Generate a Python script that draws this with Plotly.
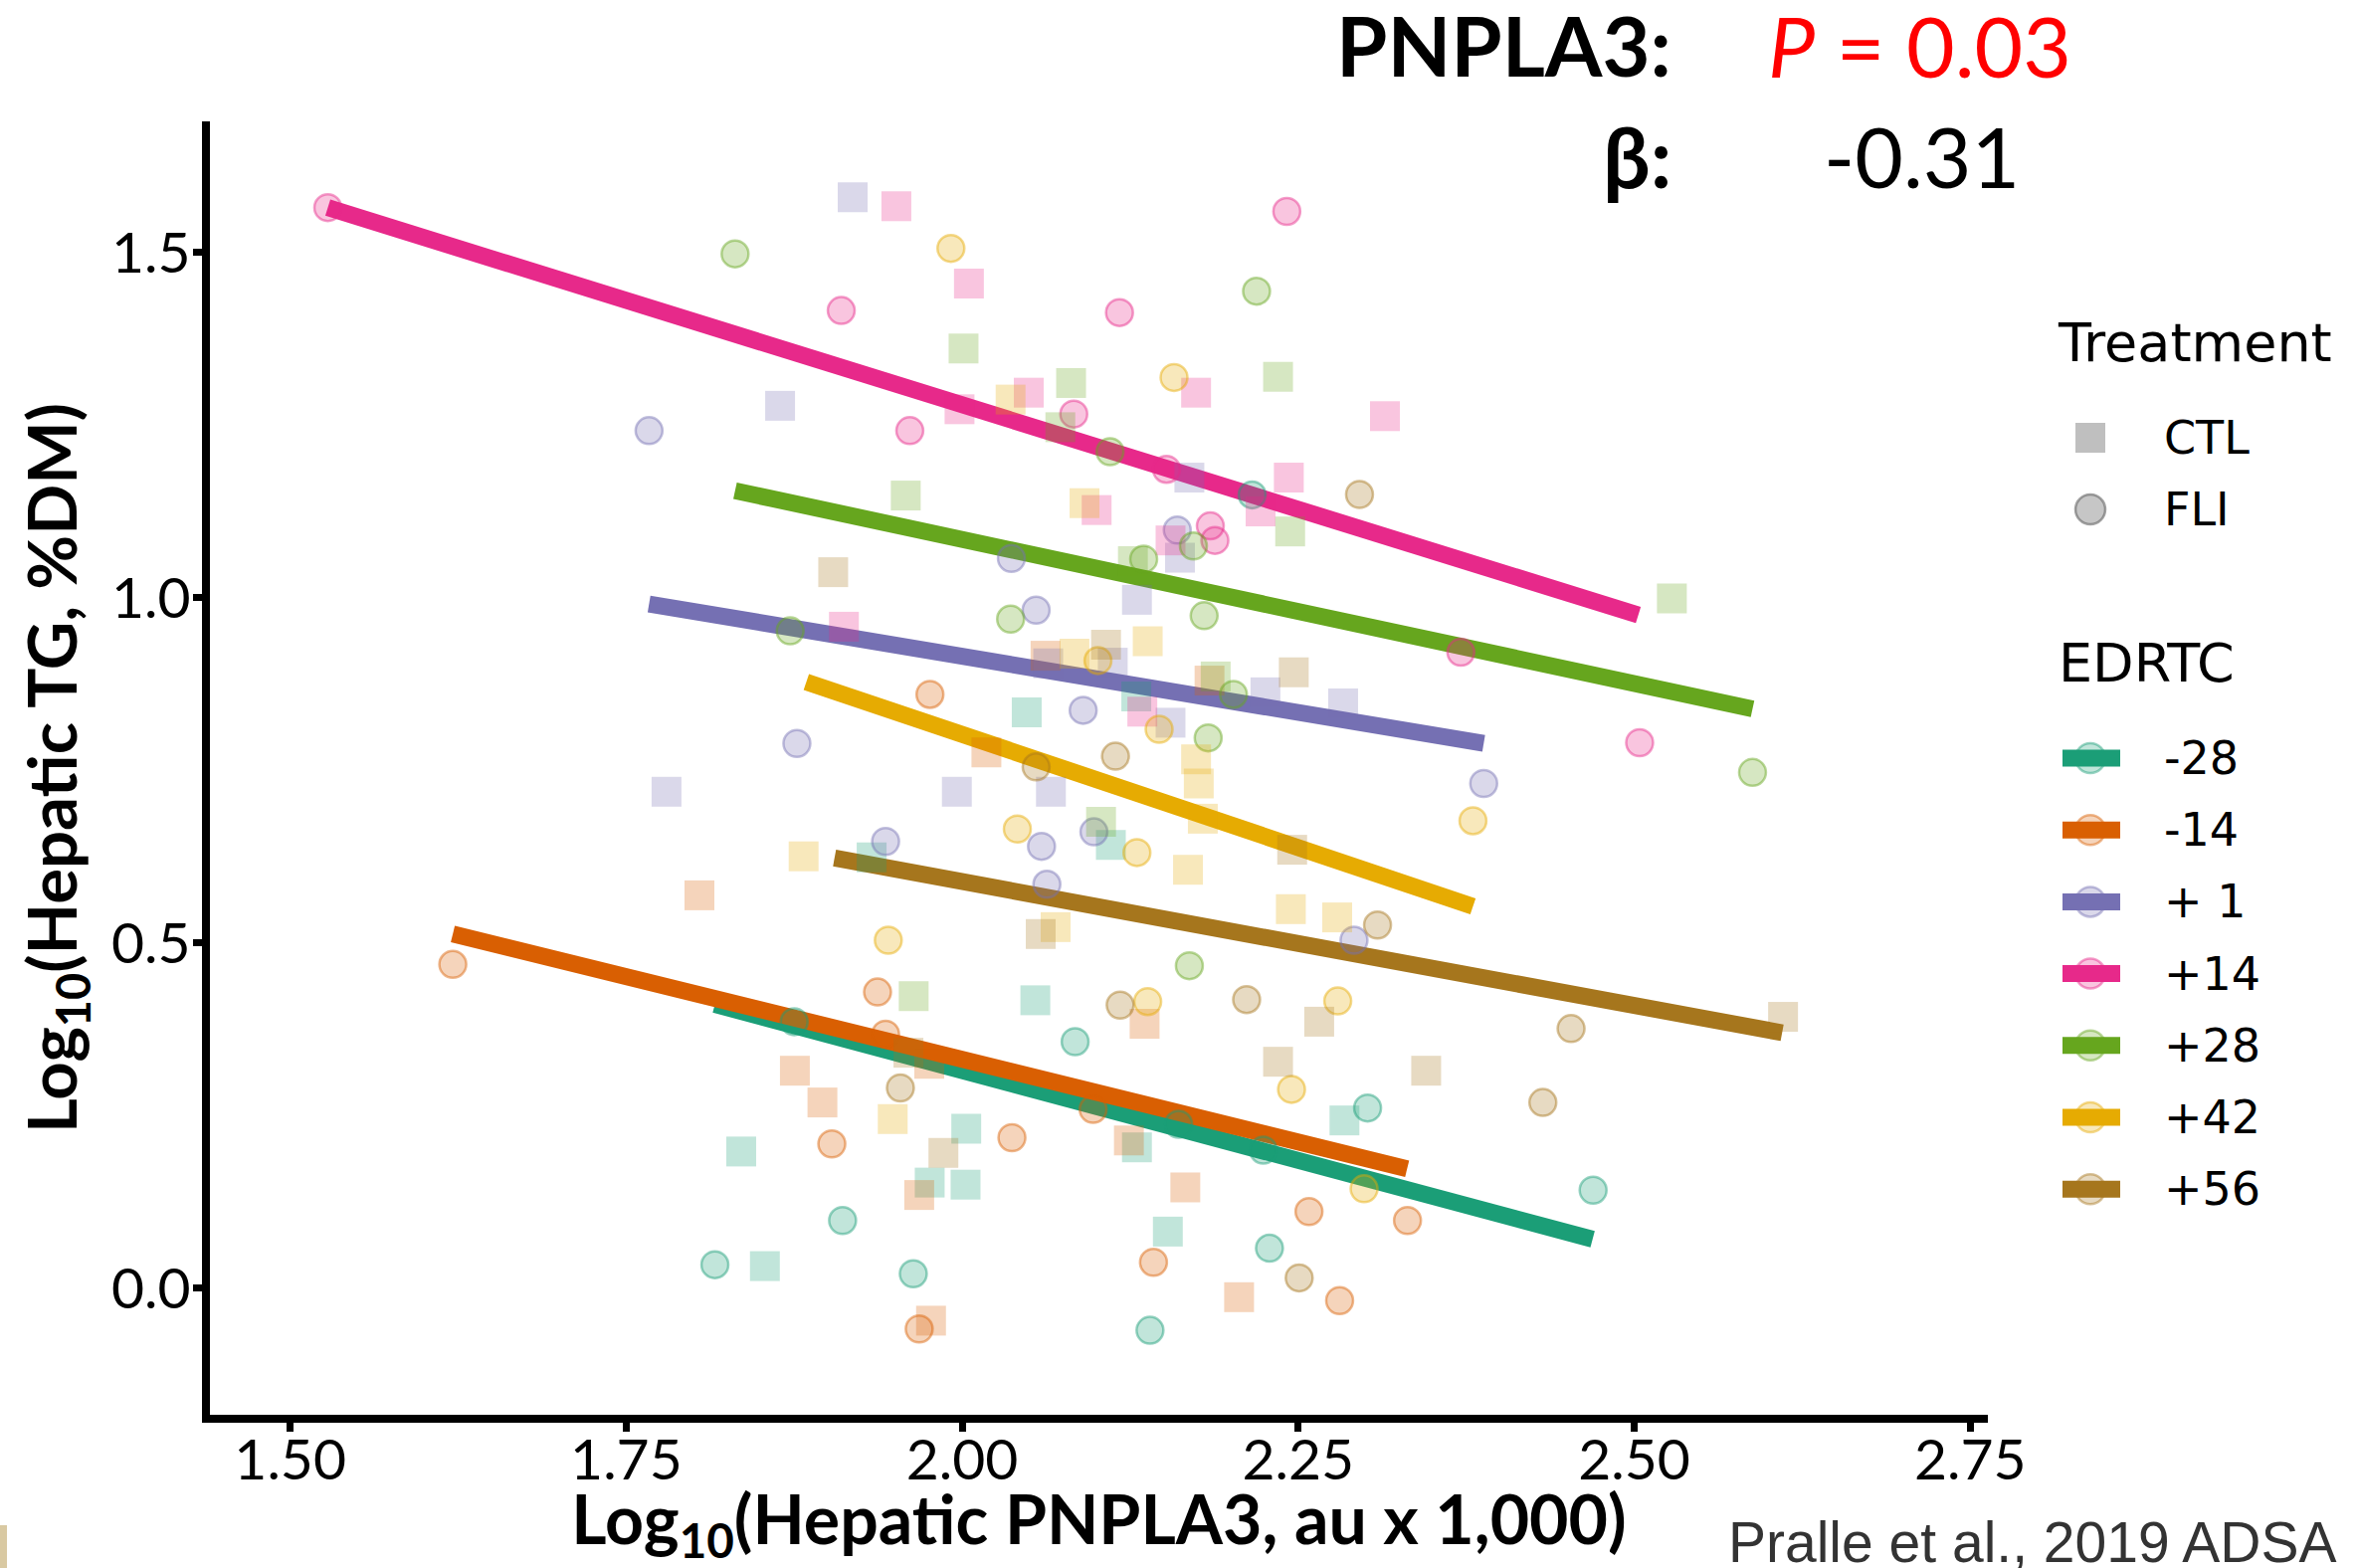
import plotly.graph_objects as go

# ---------------- data ----------------
groups = ["-28", "-14", "+ 1", "+14", "+28", "+42", "+56"]
colors = ["#1B9E77", "#D95F02", "#7570B3", "#E7298A", "#66A61E", "#E6AB02", "#A6761D"]
treatments = ["CTL", "FLI"]

# EDRTC -28
m28_ctl_x = [1.9326, 1.8356, 1.8532, 2.0544, 2.1106, 2.048, 2.1295, 2.003, 1.9758, 2.0025, 2.130, 2.2844, 2.153]
m28_ctl_y = [0.624, 0.198, 0.032, 0.417, 0.642, 0.834, 0.857, 0.231, 0.153, 0.150, 0.204, 0.243, 0.082]
m28_fli_x = [1.875, 1.911, 1.816, 1.9636, 2.084, 2.161, 2.224, 2.3016, 2.2286, 2.1397, 2.4694, 2.2157]
m28_fli_y = [0.386, 0.098, 0.034, 0.021, 0.357, 0.2375, 0.200, 0.261, 0.058, -0.061, 0.142, 1.149]
# EDRTC -14
m14_ctl_x = [1.8045, 1.8755, 1.896, 1.9755, 1.968, 1.9768, 2.1357, 2.124, 2.166, 2.206, 2.018, 2.062, 2.184]
m14_ctl_y = [0.569, 0.315, 0.269, 0.325, 0.135, -0.047, 0.383, 0.214, 0.146, -0.013, 0.776, 0.916, 0.880]
m14_fli_x = [1.621, 1.937, 1.943, 1.903, 2.037, 2.0974, 2.258, 2.3313, 2.1423, 2.2808, 1.968, 1.976]
m14_fli_y = [0.469, 0.429, 0.368, 0.209, 0.218, 0.259, 0.111, 0.098, 0.0375, -0.018, -0.059, 0.860]
# EDRTC +1
p01_ctl_x = [1.9185, 1.8645, 1.780, 2.169, 2.162, 2.130, 2.064, 2.112, 2.2256, 2.2834, 2.155, 1.996, 2.066]
p01_ctl_y = [1.580, 1.278, 0.719, 1.174, 1.058, 0.997, 0.905, 0.906, 0.863, 0.847, 0.819, 0.719, 0.719]
p01_fli_x = [1.767, 1.877, 2.160, 2.0366, 2.055, 2.090, 2.388, 1.943, 2.098, 2.059, 2.063, 2.2915]
p01_fli_y = [1.242, 0.789, 1.098, 1.057, 0.982, 0.837, 0.731, 0.647, 0.661, 0.640, 0.585, 0.504]
# EDRTC +14
p14_ctl_x = [1.951, 2.005, 2.174, 2.3145, 2.0495, 1.998, 2.243, 2.222, 2.100, 2.155, 1.912, 2.134]
p14_ctl_y = [1.567, 1.455, 1.297, 1.263, 1.297, 1.273, 1.174, 1.125, 1.127, 1.083, 0.958, 0.835]
p14_fli_x = [1.528, 1.910, 2.117, 2.2415, 2.083, 1.961, 2.152, 2.1846, 2.188, 2.371, 2.504]
p14_fli_y = [1.565, 1.416, 1.413, 1.5595, 1.266, 1.242, 1.186, 1.104, 1.083, 0.921, 0.790]
# EDRTC +28
p28_ctl_x = [2.001, 2.235, 2.081, 2.073, 1.958, 2.244, 2.127, 2.1886, 2.528, 2.1033, 1.9639]
p28_ctl_y = [1.361, 1.320, 1.311, 1.247, 1.148, 1.096, 1.053, 0.886, 0.999, 0.6755, 0.423]
p28_fli_x = [1.831, 2.219, 2.110, 2.172, 2.135, 2.180, 2.036, 1.872, 2.2018, 2.183, 2.588, 2.169]
p28_fli_y = [1.498, 1.444, 1.2115, 1.075, 1.056, 0.974, 0.969, 0.952, 0.860, 0.797, 0.747, 0.467]
# EDRTC +42
p42_ctl_x = [2.036, 2.091, 2.0835, 2.138, 2.174, 2.176, 2.179, 2.168, 2.2445, 2.279, 1.882, 1.9483, 2.0695]
p42_ctl_y = [1.287, 1.137, 0.919, 0.937, 0.766, 0.731, 0.680, 0.606, 0.549, 0.537, 0.6255, 0.245, 0.523]
p42_fli_x = [1.9916, 2.1576, 2.101, 2.1465, 2.041, 2.130, 2.380, 1.945, 2.138, 2.2794, 2.245, 2.299]
p42_fli_y = [1.506, 1.319, 0.909, 0.8095, 0.665, 0.631, 0.677, 0.504, 0.415, 0.416, 0.288, 0.144]
# EDRTC +56
p56_ctl_x = [1.904, 2.107, 2.2467, 2.2455, 2.0584, 2.2656, 2.235, 2.3452, 1.960, 1.986, 2.6107]
p56_ctl_y = [1.037, 0.932, 0.892, 0.635, 0.513, 0.386, 0.328, 0.315, 0.341, 0.196, 0.393]
p56_fli_x = [2.2956, 2.114, 2.055, 2.309, 2.1175, 2.2116, 1.954, 2.2507, 2.453, 2.432]
p56_fli_y = [1.1496, 0.7705, 0.755, 0.526, 0.410, 0.418, 0.290, 0.015, 0.376, 0.269]

# fitted regression lines per EDRTC group (start / end)
fit_x_start = [1.816, 1.621, 1.767, 1.528, 1.831, 1.884, 1.905]
fit_x_end = [2.469, 2.331, 2.388, 2.503, 2.588, 2.380, 2.610]
fit_y_start = [0.411, 0.513, 0.991, 1.565, 1.155, 0.878, 0.623]
fit_y_end = [0.071, 0.173, 0.789, 0.975, 0.839, 0.553, 0.370]

x_ticks = [1.50, 1.75, 2.00, 2.25, 2.50, 2.75]
x_tick_labels = ["1.50", "1.75", "2.00", "2.25", "2.50", "2.75"]
y_ticks = [0.0, 0.5, 1.0, 1.5]
y_tick_labels = ["0.0", "0.5", "1.0", "1.5"]

stat_gene = "PNPLA3:"
stat_p = "<i>P</i> = 0.03"
stat_beta_label = "\u03b2:"
stat_beta = "-0.31"
source_text = "Pralle et al., 2019 ADSA"

# ---------------- layout geometry ----------------
W, H = 2369, 1576
ML, MR, MT, MB = 211, 371, 122, 154
PW, PH = W - ML - MR, H - MT - MB


def px(X):
    return (X - ML) / PW


def py(Y):
    return (H - MB - Y) / PH


def rgba(hexc, a):
    h = hexc.lstrip("#")
    r, g, b = int(h[0:2], 16), int(h[2:4], 16), int(h[4:6], 16)
    return f"rgba({r},{g},{b},{a})"


FILL_A, LINE_A = 0.27, 0.45
series = [
    (m28_ctl_x, m28_ctl_y, m28_fli_x, m28_fli_y),
    (m14_ctl_x, m14_ctl_y, m14_fli_x, m14_fli_y),
    (p01_ctl_x, p01_ctl_y, p01_fli_x, p01_fli_y),
    (p14_ctl_x, p14_ctl_y, p14_fli_x, p14_fli_y),
    (p28_ctl_x, p28_ctl_y, p28_fli_x, p28_fli_y),
    (p42_ctl_x, p42_ctl_y, p42_fli_x, p42_fli_y),
    (p56_ctl_x, p56_ctl_y, p56_fli_x, p56_fli_y),
]

fig = go.Figure()

# regression lines (drawn beneath the points)
for i, g in enumerate(groups):
    fig.add_trace(go.Scatter(
        x=[fit_x_start[i], fit_x_end[i]], y=[fit_y_start[i], fit_y_end[i]],
        mode="lines", line=dict(color=colors[i], width=17),
        name=g, showlegend=False, hoverinfo="skip"))

# points
for i, g in enumerate(groups):
    cx, cy, fx, fy = series[i]
    fig.add_trace(go.Scatter(
        x=cx, y=cy, mode="markers", name=f"{g} {treatments[0]}", showlegend=False,
        marker=dict(symbol="square", size=30, color=rgba(colors[i], FILL_A), line=dict(width=0))))
    fig.add_trace(go.Scatter(
        x=fx, y=fy, mode="markers", name=f"{g} {treatments[1]}", showlegend=False,
        marker=dict(symbol="circle", size=27, color=rgba(colors[i], FILL_A),
                    line=dict(width=2.5, color=rgba(colors[i], LINE_A)))))

TICKFONT = dict(family="Lato", size=57, color="black")
fig.update_layout(
    width=W, height=H,
    margin=dict(l=ML, r=MR, t=MT, b=MB, autoexpand=False),
    plot_bgcolor="white", paper_bgcolor="white",
    showlegend=False,
    xaxis=dict(range=[1.4403, 2.7631], tickvals=x_ticks, ticktext=x_tick_labels,
               showgrid=False, zeroline=False, showline=True, linecolor="black", linewidth=8,
               ticks="outside", tickwidth=7, ticklen=9, tickcolor="black",
               tickfont=TICKFONT, ticklabelstandoff=-20,
               title=dict(text="<b>Log<sub>10</sub>(Hepatic PNPLA3, au x 1,000)</b>",
                          font=dict(family="Lato", size=68, color="black"), standoff=55)),
    yaxis=dict(range=[-0.1833, 1.6899], tickvals=y_ticks, ticktext=y_tick_labels,
               showgrid=False, zeroline=False, showline=True, linecolor="black", linewidth=8,
               ticks="outside", tickwidth=7, ticklen=9, tickcolor="black",
               tickfont=TICKFONT, ticklabelstandoff=-9,
               title=dict(text="<b>Log<sub>10</sub>(Hepatic TG, %DM)</b>",
                          font=dict(family="Lato", size=67, color="black"), standoff=16)),
)

ann = []
shapes = []
# statistics text
ann.append(dict(text=f"<b>{stat_gene}</b>", x=px(1682), y=py(45), xref="paper", yref="paper",
                xanchor="right", yanchor="middle", showarrow=False,
                font=dict(family="Lato", size=83, color="black")))
ann.append(dict(text=stat_p, x=px(1775), y=py(45), xref="paper", yref="paper",
                xanchor="left", yanchor="middle", showarrow=False,
                font=dict(family="Lato", size=84, color="#FF0000")))
ann.append(dict(text=f"<b>{stat_beta_label}</b>", x=px(1682), y=py(156), xref="paper", yref="paper",
                xanchor="right", yanchor="middle", showarrow=False,
                font=dict(family="Lato", size=84, color="black")))
ann.append(dict(text=stat_beta, x=px(1831), y=py(156), xref="paper", yref="paper",
                xanchor="left", yanchor="middle", showarrow=False,
                font=dict(family="Lato", size=84, color="black")))

# source note
ann.append(dict(text=source_text, x=px(1735), y=py(1516), xref="paper", yref="paper",
                xanchor="left", yanchor="top", showarrow=False,
                font=dict(family="Liberation Sans", size=57, color="#333333")))
shapes.append(dict(type="rect", xref="paper", yref="paper", x0=px(0), x1=px(7), y0=py(1576), y1=py(1533),
                   fillcolor="#D9C9A2", line=dict(width=0)))

# ---- legend (Treatment) ----
LEG_TITLE = dict(family="DejaVu Sans", size=54, color="black")
LEG_TEXT = dict(family="DejaVu Sans", size=46, color="black")
SYM_X = 2101
TXT_X = 2173
ann.append(dict(text="Treatment", x=px(2066), y=py(344), xref="paper", yref="paper",
                xanchor="left", yanchor="middle", showarrow=False, font=LEG_TITLE))
tr_y = [440, 512]
for j, t in enumerate(treatments):
    Y = tr_y[j]
    if j == 0:
        shapes.append(dict(type="rect", xref="paper", yref="paper",
                           x0=px(SYM_X - 15), x1=px(SYM_X + 15), y0=py(Y + 15), y1=py(Y - 15),
                           fillcolor="rgba(128,128,128,0.5)", line=dict(width=0)))
    else:
        shapes.append(dict(type="circle", xref="paper", yref="paper",
                           x0=px(SYM_X - 15), x1=px(SYM_X + 15), y0=py(Y + 15), y1=py(Y - 15),
                           fillcolor="rgba(128,128,128,0.45)", line=dict(width=2.5, color="rgba(90,90,90,0.55)")))
    ann.append(dict(text=t, x=px(TXT_X), y=py(Y), xref="paper", yref="paper",
                    xanchor="left", yanchor="middle", showarrow=False, font=LEG_TEXT))

# ---- legend (EDRTC) ----
ann.append(dict(text="EDRTC", x=px(2067), y=py(666), xref="paper", yref="paper",
                xanchor="left", yanchor="middle", showarrow=False, font=LEG_TITLE))
for i, g in enumerate(groups):
    Y = 762 + 72.2 * i
    shapes.append(dict(type="circle", xref="paper", yref="paper",
                       x0=px(SYM_X - 15), x1=px(SYM_X + 15), y0=py(Y + 15), y1=py(Y - 15),
                       fillcolor=rgba(colors[i], FILL_A), line=dict(width=2.5, color=rgba(colors[i], LINE_A))))
    shapes.append(dict(type="line", xref="paper", yref="paper",
                       x0=px(2073), x1=px(2131), y0=py(Y), y1=py(Y),
                       line=dict(width=17, color=colors[i])))
    ann.append(dict(text=g, x=px(TXT_X), y=py(Y), xref="paper", yref="paper",
                    xanchor="left", yanchor="middle", showarrow=False, font=LEG_TEXT))

fig.update_layout(annotations=ann, shapes=shapes)
fig.write_html("out.html")
